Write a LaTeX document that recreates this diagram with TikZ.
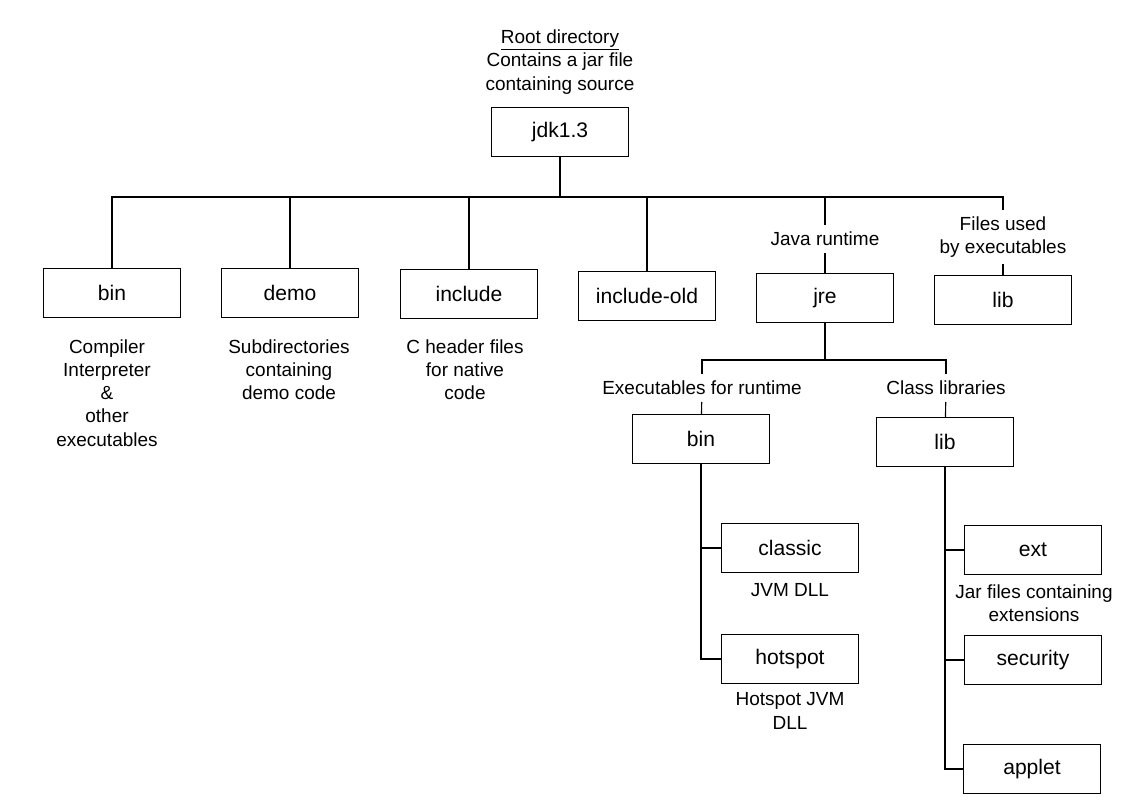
\documentclass[tikz,border=0pt]{standalone}
\usepackage{fontspec}
\setmainfont{Liberation Sans}

\begin{document}
\begin{tikzpicture}[x=0.025cm, y=-0.025cm, line width=0.8pt,
    dir/.style={draw, minimum width=3.42cm, minimum height=1.22cm, font=\fontsize{15}{18}\selectfont},
    note/.style={align=center, inner sep=2pt, outer sep=3pt, font=\fontsize{13.5}{16.5}\selectfont}]
            \useasboundingbox (0, 0) rectangle (1140, 808);

            \node[note] (root) at (560, 62) {\underline{Root directory}\\Contains a jar file\\containing source};
            \node[dir] (jdk) at (560, 132) {jdk1.3};
            \coordinate (top) at (560, 197);

            \node[dir] (bin) at (112, 293) {bin};
            \node[dir] (demo) at (290, 293) {demo};
            \node[dir] (incl) at (469, 294) {include};
            \node[dir] (inclold) at (647, 296) {include-old};
            \node[dir] (jre) at (825, 298) {jre};
            \node[dir] (lib) at (1003, 300) {lib};
            \node[note] (javart) at (825, 239) {Java runtime};
            \node[note] (files) at (1003, 237) {Files used\\by executables};

            \node[note] (binnote) at (107, 393) {Compiler\\Interpreter\\\&\\other\\executables};
            \node[note] (demonote) at (289, 370) {Subdirectories\\containing\\demo code};
            \node[note] (inclnote) at (465, 370) {C header files\\for native\\code};

            \coordinate (jsplit) at (825, 360);
            \node[note] (exenote) at (702, 388) {Executables for runtime};
            \node[note] (classnote) at (946, 388) {Class libraries};
            \node[dir] (jbin) at (701, 439) {bin};
            \node[dir] (jlib) at (945, 442) {lib};

            \node[dir] (classic) at (790, 548) {classic};
            \node[note] (classicnote) at (790, 590) {JVM DLL};
            \node[dir] (hotspot) at (790, 659) {hotspot};
            \node[note] (hotspotnote) at (790, 711) {Hotspot JVM\\DLL};
            \node[dir] (ext) at (1033, 550) {ext};
            \node[note] (extnote) at (1034, 603) {Jar files containing\\extensions};
            \node[dir] (security) at (1033, 660) {security};
            \node[dir] (applet) at (1032, 769) {applet};

            \draw (jdk) -- (top);
            \draw (bin) |- (top);
            \draw (demo) |- (top);
            \draw (incl) |- (top);
            \draw (inclold) |- (top);
            \draw (javart) |- (top);
            \draw (files) |- (top);
            \draw (javart) -- (jre);
            \draw (files) -- (lib);

            \draw (jre) -- (jsplit);
            \draw (exenote) |- (jsplit);
            \draw (classnote) |- (jsplit);
            \draw (exenote) -- (jbin);
            \draw (classnote) -- (jlib);

            \draw (jbin) |- (classic);
            \draw (jbin) |- (hotspot);
            \draw (jlib) |- (ext);
            \draw (jlib) |- (security);
            \draw (jlib) |- (applet);
          \end{tikzpicture}
\end{document}
